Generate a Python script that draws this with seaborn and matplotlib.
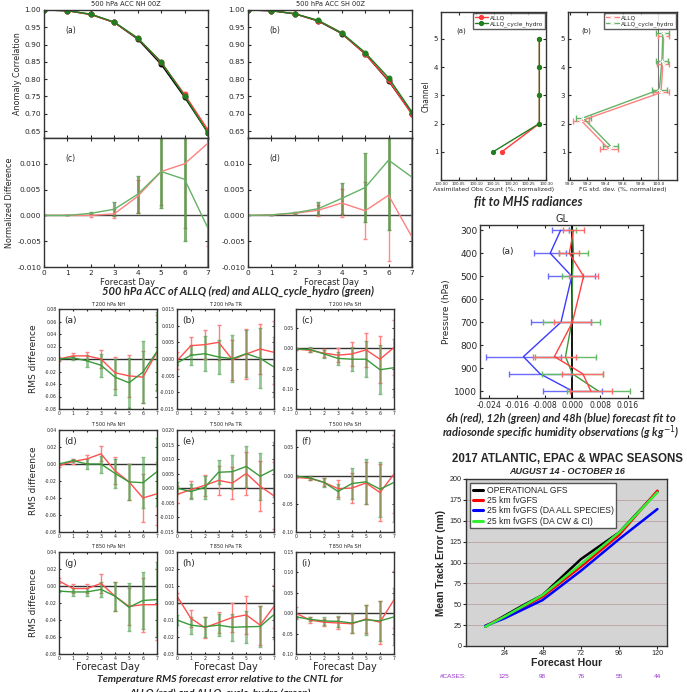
import numpy as np
import pandas as pd
import seaborn as sns
import matplotlib.pyplot as plt
import matplotlib.transforms as mtransforms

W, H = 687, 692

# ---------------- data ----------------
days = list(range(8))

# 500 hPa ACC
acc_nh_ctl = [1.0, 0.998, 0.987, 0.964, 0.916, 0.843, 0.748, 0.645]
acc_nh_red = [1.0, 0.998, 0.987, 0.964, 0.918, 0.849, 0.756, 0.653]
acc_nh_grn = [1.0, 0.998, 0.988, 0.965, 0.919, 0.850, 0.752, 0.644]
acc_sh_ctl = [1.0, 0.998, 0.989, 0.968, 0.932, 0.873, 0.795, 0.700]
acc_sh_red = [1.0, 0.998, 0.989, 0.969, 0.933, 0.873, 0.797, 0.698]
acc_sh_grn = [1.0, 0.998, 0.989, 0.970, 0.934, 0.877, 0.804, 0.705]

nd_nh_red = [0, 0, 0.0, 0.0003, 0.0037, 0.0085, 0.0100, 0.0140]
nd_nh_red_err = [0, 0, 0.0003, 0.0009, 0.0032, 0.0065, 0.0125, 0.020]
nd_nh_grn = [0, 0, 0.0004, 0.0012, 0.0041, 0.0085, 0.0070, -0.0025]
nd_nh_grn_err = [0, 0, 0.0002, 0.0013, 0.0036, 0.0070, 0.0120, 0.020]
nd_sh_red = [0, 0.0001, 0.0004, 0.0010, 0.0024, 0.0009, 0.0039, -0.0042]
nd_sh_red_err = [0, 0, 0.0002, 0.0011, 0.0028, 0.0055, 0.0127, 0.020]
nd_sh_grn = [0, 0.0001, 0.0005, 0.0013, 0.0033, 0.0054, 0.0107, 0.0074]
nd_sh_grn_err = [0, 0, 0.0002, 0.0012, 0.0030, 0.0067, 0.0135, 0.020]

# MHS radiances
channels = [1, 2, 3, 4, 5]
mhs_cnt_red = [100.174, 100.281, 100.281, 100.281, 100.281]
mhs_cnt_grn = [100.149, 100.281, 100.281, 100.281, 100.281]
mhs_std_red = [99.44, 99.13, 100.03, 100.05, 100.06]
mhs_std_red_err = [0.10, 0.09, 0.09, 0.065, 0.065]
mhs_std_grn = [99.46, 99.15, 100.01, 100.04, 100.05]
mhs_std_grn_err = [0.085, 0.085, 0.085, 0.07, 0.075]

# radiosonde specific humidity fit
levels = [300, 400, 500, 700, 850, 925, 1000]
q_6h = [0.0003, -0.0009, 0.0032, 0.0000, -0.0052, 0.0030, 0.0053]
q_6h_err = [0.0029, 0.0029, 0.0041, 0.0052, 0.0061, 0.0059, 0.0061]
q_12h = [0.0000, 0.0003, 0.0000, -0.0002, -0.0020, 0.0000, 0.0075]
q_12h_err = [0.0010, 0.0041, 0.0030, 0.0082, 0.0089, 0.0087, 0.0092]
q_48h = [-0.0034, -0.0064, -0.0002, -0.0033, -0.0141, -0.0093, 0.0000]
q_48h_err = [0.0025, 0.0046, 0.0068, 0.0087, 0.0109, 0.0090, 0.0084]

# Temperature RMS difference, panels a..i
t_titles = ["T 200 hPa NH", "T 200 hPa TR", "T 200 hPa SH",
            "T 500 hPa NH", "T 500 hPa TR", "T 500 hPa SH",
            "T 850 hPa NH", "T 850 hPa TR", "T 850 hPa SH"]
t_red = [
    [0.0, 0.005, 0.005, 0.0, -0.022, -0.027, -0.029, 0.011],
    [-0.0005, 0.004, 0.0043, 0.005, -0.0002, 0.0015, 0.003, 0.002],
    [-0.002, -0.005, -0.012, -0.017, -0.014, -0.004, -0.027, 0.002],
    [-0.002, 0.003, 0.006, 0.012, -0.008, -0.021, -0.040, -0.035],
    [-0.0021, -0.0005, 0.001, 0.0027, 0.0018, 0.0051, 0.0007, -0.0026],
    [-0.003, -0.005, -0.012, -0.023, -0.022, -0.013, -0.030, 0.003],
    [0.006, -0.003, -0.003, 0.003, -0.012, -0.024, -0.022, -0.022],
    [0.004, -0.009, -0.0145, -0.0115, -0.0085, -0.007, -0.013, -0.002],
    [0.0, -0.017, -0.022, -0.024, -0.026, -0.014, -0.022, 0.033],
]
t_red_err = [
    [0.003, 0.004, 0.006, 0.015, 0.026, 0.033, 0.042, 0.060],
    [0.0025, 0.0025, 0.0043, 0.0053, 0.006, 0.0075, 0.0075, 0.0095],
    [0.003, 0.005, 0.010, 0.017, 0.029, 0.042, 0.058, 0.068],
    [0.002, 0.003, 0.005, 0.009, 0.016, 0.021, 0.028, 0.037],
    [0.003, 0.003, 0.0035, 0.005, 0.0055, 0.0075, 0.0085, 0.0115],
    [0.002, 0.003, 0.007, 0.015, 0.027, 0.037, 0.050, 0.070],
    [0.003, 0.005, 0.005, 0.011, 0.017, 0.022, 0.032, 0.042],
    [0.002, 0.005, 0.006, 0.006, 0.0085, 0.011, 0.0115, 0.0125],
    [0.015, 0.007, 0.009, 0.015, 0.023, 0.035, 0.053, 0.070],
]
t_grn = [
    [0.0, 0.002, -0.003, -0.010, -0.029, -0.038, -0.021, 0.012],
    [-0.0012, 0.0011, 0.0016, 0.0006, 0.0001, 0.0016, 0.0002, -0.0024],
    [-0.002, -0.003, -0.014, -0.025, -0.027, -0.027, -0.053, -0.048],
    [0.0, 0.004, 0.0, 0.0, -0.011, -0.021, -0.022, -0.009],
    [0.0, -0.0011, 0.0003, 0.0055, 0.0057, 0.0075, 0.0041, 0.0065],
    [-0.001, -0.004, -0.012, -0.028, -0.014, -0.011, -0.024, -0.012],
    [-0.006, -0.007, -0.007, -0.004, -0.012, -0.025, -0.017, -0.016],
    [-0.010, -0.013, -0.014, -0.013, -0.0143, -0.014, -0.0138, -0.0068],
    [-0.009, -0.015, -0.019, -0.020, -0.024, -0.016, -0.019, -0.009],
]
t_grn_err = [
    [0.002, 0.003, 0.009, 0.018, 0.029, 0.040, 0.050, 0.063],
    [0.0005, 0.003, 0.0052, 0.0052, 0.007, 0.007, 0.009, 0.009],
    [0.003, 0.005, 0.009, 0.017, 0.030, 0.045, 0.060, 0.072],
    [0.001, 0.002, 0.006, 0.010, 0.017, 0.021, 0.030, 0.040],
    [0.002, 0.0025, 0.004, 0.0042, 0.0058, 0.007, 0.008, 0.0095],
    [0.002, 0.003, 0.008, 0.013, 0.027, 0.040, 0.049, 0.070],
    [0.001, 0.005, 0.005, 0.009, 0.017, 0.028, 0.033, 0.044],
    [0.003, 0.005, 0.0058, 0.0063, 0.0078, 0.0095, 0.0123, 0.0145],
    [0.003, 0.005, 0.009, 0.013, 0.025, 0.037, 0.050, 0.070],
]
t_ylims = [(-0.08, 0.08), (-0.015, 0.015), (-0.15, 0.097),
           (-0.08, 0.04), (-0.015, 0.020), (-0.10, 0.081),
           (-0.08, 0.04), (-0.03, 0.03), (-0.10, 0.15)]
t_yticks = [np.arange(-0.08, 0.081, 0.02), np.arange(-0.015, 0.0151, 0.005),
            np.arange(-0.15, 0.051, 0.05), np.arange(-0.08, 0.041, 0.02),
            np.arange(-0.015, 0.0201, 0.005), np.arange(-0.10, 0.051, 0.05),
            np.arange(-0.08, 0.041, 0.02), np.arange(-0.03, 0.031, 0.01),
            np.arange(-0.10, 0.151, 0.05)]
t_fmt = ["%.2f", "%.3f", "%.2f", "%.2f", "%.3f", "%.2f", "%.2f", "%.2f", "%.2f"]

# hurricane track error
hours = [12, 24, 36, 48, 72, 96, 120]
trk_ops = [23, 36, 49, 61, 104, 136, 185]
trk_25km = [24, 35, 47, 59, 95, 133, 186]
trk_all = [24, 33, 44, 55, 90, 128, 164]
trk_cwci = [23, 35, 48, 61, 98, 136, 184]
case_hours = [24, 48, 72, 96, 120]
n_cases = [125, 98, 76, 55, 44]

# ---------------- drawing ----------------
sns.set_style("ticks")
plt.rcParams['font.family'] = ['DejaVu Sans']
plt.rcParams['axes.linewidth'] = 1.0
plt.rcParams['axes.edgecolor'] = '#333333'

fig = plt.figure(figsize=(W / 100, H / 100), dpi=100)

RED = '#ff3b3b'
RED_L = '#ff8080'
GRN_L = '#66b266'
CAP = ['Lato', 'DejaVu Sans']
SANS = ['Liberation Sans', 'DejaVu Sans']


def px_axes(x0, y0, x1, y1):
    return fig.add_axes([x0 / W, 1 - y1 / H, (x1 - x0) / W, (y1 - y0) / H])


def ftext(x, y, s, **kw):
    kw.setdefault('ha', 'center')
    kw.setdefault('va', 'center')
    fig.text(x / W, 1 - y / H, s, **kw)


def line(ax, x, y, color, lw=1.0, **kw):
    sns.lineplot(x=x, y=y, color=color, lw=lw, ax=ax, sort=False,
                 estimator=None, legend=False, **kw)


# ---- 500 hPa ACC ----
for (x0, x1, ctl, red, grn, nr, nre, ng, nge, lab_u, lab_l, ttl) in [
        (44, 208, acc_nh_ctl, acc_nh_red, acc_nh_grn, nd_nh_red, nd_nh_red_err,
         nd_nh_grn, nd_nh_grn_err, "(a)", "(c)", "500 hPa ACC NH 00Z"),
        (248, 412, acc_sh_ctl, acc_sh_red, acc_sh_grn, nd_sh_red, nd_sh_red_err,
         nd_sh_grn, nd_sh_grn_err, "(b)", "(d)", "500 hPa ACC SH 00Z")]:
    au = px_axes(x0, 10, x1, 138)
    line(au, days, ctl, 'black', marker='o', markersize=3.5, mec='black')
    line(au, days, red, RED, marker='o', markersize=3.5, mec=RED)
    line(au, days, grn, '#1f7f1f', marker='o', markersize=3.5, mec='#1f7f1f')
    au.set_xlim(0, 7)
    au.set_ylim(0.63, 1.0)
    au.set_yticks(np.arange(0.65, 1.001, 0.05))
    au.yaxis.set_major_formatter(plt.FormatStrFormatter('%.2f'))
    au.set_xticks(days)
    au.tick_params(labelbottom=False, labelsize=5.3, length=2, pad=2,
                   direction='in', top=True, right=True)
    au.set_ylabel("Anomaly Correlation" if x0 < 100 else "", fontsize=5.8,
                  labelpad=2)
    au.text(0.13, 0.82, lab_u, transform=au.transAxes, fontsize=5.5)

    al = px_axes(x0, 138, x1, 267)
    al.axhline(0, color='#444444', lw=1)
    al.errorbar(days, nr, yerr=nre, fmt='none', ecolor=RED_L, elinewidth=1,
                capsize=1.5, alpha=0.9)
    al.errorbar(days, ng, yerr=nge, fmt='none', ecolor='#4d8f3d',
                elinewidth=2.2, capsize=1.5, alpha=0.7)
    line(al, days, nr, RED_L)
    line(al, days, ng, GRN_L)
    al.set_xlim(0, 7)
    al.set_ylim(-0.010, 0.015)
    al.set_yticks([-0.010, -0.005, 0.0, 0.005, 0.010])
    al.yaxis.set_major_formatter(plt.FormatStrFormatter('%.3f'))
    al.set_xticks(days)
    al.tick_params(labelsize=5.3, length=2, pad=2, direction='in', top=True,
                   right=True)
    al.set_ylabel("Normalized Difference" if x0 < 100 else "", fontsize=5.8,
                  labelpad=2)
    al.text(0.13, 0.82, lab_l, transform=al.transAxes, fontsize=5.5)
    ftext((x0 + x1) / 2, 4.5, ttl, fontsize=4.8)
    ftext((x0 + x1) / 2 + 2, 282, "Forecast Day", fontsize=6)

ftext(238, 291, "500 hPa ACC of ALLQ (red) and ALLQ_cycle_hydro (green)",
      fontsize=8, fontweight='bold', fontstyle='italic', family=CAP)

# ---- MHS radiances ----
ma = px_axes(441, 12, 546, 180)
line(ma, mhs_cnt_red, channels, RED, marker='o', markersize=3, mec=RED,
     label='ALLQ')
line(ma, mhs_cnt_grn, channels, '#1f7f1f', marker='o', markersize=3,
     mec='#1f7f1f', label='ALLQ_cycle_hydro')
ma.set_xlim(100.0, 100.30)
ma.set_ylim(0, 5.95)
ma.set_yticks(channels)
ma.set_xticks(np.arange(100.0, 100.301, 0.05))
ma.xaxis.set_major_formatter(plt.FormatStrFormatter('%.2f'))
ma.tick_params(axis='x', labelsize=2.8, length=2, pad=1.5, direction='in',
               top=True)
ma.tick_params(axis='y', labelsize=5, length=2, pad=2, direction='in',
               right=True)
ma.set_xlabel("Assimilated Obs Count (%, normalized)", fontsize=4.4,
              labelpad=1)
ma.set_ylabel("Channel", fontsize=5.5, labelpad=2)
ma.text(0.15, 0.88, "(a)", transform=ma.transAxes, fontsize=5)
ma.legend(loc='upper right', fontsize=4.2, handlelength=2.2, borderpad=0.3,
          labelspacing=0.2, handletextpad=0.4, fancybox=False,
          edgecolor='#333333', borderaxespad=0.2)

mb = px_axes(568, 12, 677, 180)
mb.axvline(100.0, color='#777777', lw=0.8)
red_y = [c + 0.1 for c in channels]
grn_y = [c + 0.2 for c in channels]
mb.errorbar(mhs_std_red, red_y, xerr=mhs_std_red_err, fmt='none',
            ecolor=RED_L, elinewidth=1, capsize=2)
mb.errorbar(mhs_std_grn, grn_y, xerr=mhs_std_grn_err, fmt='none',
            ecolor=GRN_L, elinewidth=1, capsize=2)
line(mb, mhs_std_red, red_y, RED_L, marker='+', markersize=3, label='ALLQ')
line(mb, mhs_std_grn, grn_y, GRN_L, marker='+', markersize=3,
     label='ALLQ_cycle_hydro')
mb.set_xlim(98.98, 100.21)
mb.set_ylim(0, 5.95)
mb.set_yticks(channels)
mb.set_xticks([99.0, 99.2, 99.4, 99.6, 99.8, 100.0])
mb.xaxis.set_major_formatter(plt.FormatStrFormatter('%.1f'))
mb.tick_params(axis='x', labelsize=3.2, length=2, pad=1.5, direction='in',
               top=True)
mb.tick_params(axis='y', labelsize=5, length=2, pad=2, direction='in',
               right=True)
mb.set_xlabel("FG std. dev. (%, normalized)", fontsize=4.4, labelpad=1)
mb.text(0.12, 0.88, "(b)", transform=mb.transAxes, fontsize=5)
mb.legend(loc='upper right', fontsize=4.2, handlelength=2.2, borderpad=0.3,
          labelspacing=0.2, handletextpad=0.4, fancybox=False,
          edgecolor='#333333', borderaxespad=0.2)

ftext(528, 202, "fit to MHS radiances", fontsize=9, fontweight='bold',
      fontstyle='italic', family=CAP)

# ---- radiosonde humidity fit ----
ag = px_axes(480, 225, 643, 398)
ag.axvline(0, color='black', lw=1.3, zorder=1)
for vals, errs, col, ecol in [(q_48h, q_48h_err, '#3b3bff', '#6b6bff'),
                              (q_12h, q_12h_err, '#3a9a3a', '#66bb66'),
                              (q_6h, q_6h_err, '#ff4040', '#ff6b6b')]:
    ag.errorbar(vals, levels, xerr=errs, fmt='none', ecolor=ecol,
                elinewidth=1, capsize=2)
    line(ag, vals, levels, col)
ag.set_xlim(-0.0266, 0.0203)
ag.set_ylim(1030, 277)
ag.set_yticks([300, 400, 500, 600, 700, 800, 900, 1000])
ag.set_xticks([-0.024, -0.016, -0.008, 0.0, 0.008, 0.016])
ag.xaxis.set_major_formatter(plt.FormatStrFormatter('%.3f'))
ag.tick_params(axis='x', labelsize=5.6, length=2, pad=2, direction='in',
               top=True)
ag.tick_params(axis='y', labelsize=6.5, length=2, pad=2, direction='in',
               right=True)
ag.set_ylabel("Pressure (hPa)", fontsize=6.5, labelpad=2)
ag.set_title("GL", fontsize=7, pad=2)
ag.text(0.13, 0.83, "(a)", transform=ag.transAxes, fontsize=6.5)

ftext(561, 418, "6h (red), 12h (green) and 48h (blue) forecast fit to",
      fontsize=8, fontweight='bold', fontstyle='italic', family=CAP)
ftext(561, 433, r"radiosonde specific humidity observations (g kg$^{-1}$)",
      fontsize=8, fontweight='bold', fontstyle='italic', family=CAP)

# ---- temperature RMS grid ----
col_x = [(59, 157), (177, 274), (296, 394)]
row_y = [(309, 409), (430, 532), (552, 654)]
letters = "abcdefghi"
for k in range(9):
    r, c = divmod(k, 3)
    x0, x1 = col_x[c]
    y0, y1 = row_y[r]
    ax = px_axes(x0, y0, x1, y1)
    ax.axhline(0, color='#333333', lw=1)
    ax.errorbar(days, t_red[k], yerr=t_red_err[k], fmt='none', ecolor=RED_L,
                elinewidth=1, capsize=1.5)
    ax.errorbar(days, t_grn[k], yerr=t_grn_err[k], fmt='none',
                ecolor='#4d9f4d', elinewidth=2, capsize=1.5, alpha=0.6)
    line(ax, days, t_red[k], '#ff5050')
    line(ax, days, t_grn[k], '#3a9a3a')
    ax.set_xlim(0, 7)
    ax.set_ylim(*t_ylims[k])
    ax.set_yticks(t_yticks[k])
    ax.yaxis.set_major_formatter(plt.FormatStrFormatter(t_fmt[k]))
    ax.set_xticks(days)
    ax.tick_params(labelsize=3.3, length=1.5, pad=1.5, direction='in',
                   top=True, right=True)
    ax.text(0.05, 0.86, "(%s)" % letters[k], transform=ax.transAxes,
            fontsize=6.5)
    ftext((x0 + x1) / 2, y0 - 5, t_titles[k], fontsize=3.6)
    if c == 0:
        ftext(33, (y0 + y1) / 2, "RMS difference", rotation=90, fontsize=6.5)
    if r == 2:
        ftext((x0 + x1) / 2, 667, "Forecast Day", fontsize=7)

ftext(220, 679, "Temperature RMS forecast error relative to the CNTL for",
      fontsize=7.5, fontweight='bold', fontstyle='italic', family=CAP)
ftext(220, 693, "ALLQ (red) and ALLQ_cycle_hydro (green)",
      fontsize=7.5, fontweight='bold', fontstyle='italic', family=CAP)

# ---- hurricane track error ----
at = px_axes(466, 479, 667, 646)
at.set_facecolor('#d4d4d4')
for yv in range(0, 201, 25):
    at.axhline(yv, color='#bba0a0', lw=0.6, zorder=0)
for vals, col, lab in [(trk_ops, 'black', 'OPERATIONAL GFS'),
                       (trk_25km, '#ff0000', '25 km fvGFS'),
                       (trk_all, '#0000ff', '25 km fvGFS (DA ALL SPECIES)'),
                       (trk_cwci, '#33ee33', '25 km fvGFS (DA CW & CI)')]:
    line(at, hours, vals, col, lw=1.8, label=lab)
at.set_xlim(0, 126)
at.set_ylim(0, 200)
at.set_xticks(case_hours)
at.set_yticks(range(0, 201, 25))
at.tick_params(labelsize=5.2, length=2, pad=1, direction='out')
for lab in at.get_xticklabels() + at.get_yticklabels():
    lab.set_family(SANS)
at.set_ylabel("Mean Track Error (nm)", fontsize=7.2, fontweight='bold',
              family=SANS, labelpad=3)
ftext(567, 663, "Forecast Hour", fontsize=7.6, fontweight='bold', family=SANS)
leg = at.legend(loc='upper left', handlelength=1.2, borderpad=0.3,
                labelspacing=0.15, handletextpad=0.4, fancybox=False,
                edgecolor='#555555', framealpha=1, borderaxespad=0.5,
                prop={'family': SANS, 'size': 6.2})
for lh in leg.get_lines():
    lh.set_linewidth(2.2)
trans = mtransforms.blended_transform_factory(at.transData, fig.transFigure)
for h, n in zip(case_hours, n_cases):
    at.text(h, 1 - 677 / H, str(n), transform=trans, ha='center', va='center',
            fontsize=4.6, color='#9933cc', family=SANS)
fig.text(440 / W, 1 - 677 / H, "#CASES:", ha='left', va='center',
         fontsize=4.6, color='#9933cc', family=SANS)
ftext(567, 459, "2017 ATLANTIC, EPAC & WPAC SEASONS", fontsize=8.3,
      fontweight='bold', family=SANS)
ftext(567, 472, "AUGUST 14 - OCTOBER 16", fontsize=6.5, fontweight='bold',
      fontstyle='italic', family=SANS)

fig.savefig("out.png", dpi=100)
